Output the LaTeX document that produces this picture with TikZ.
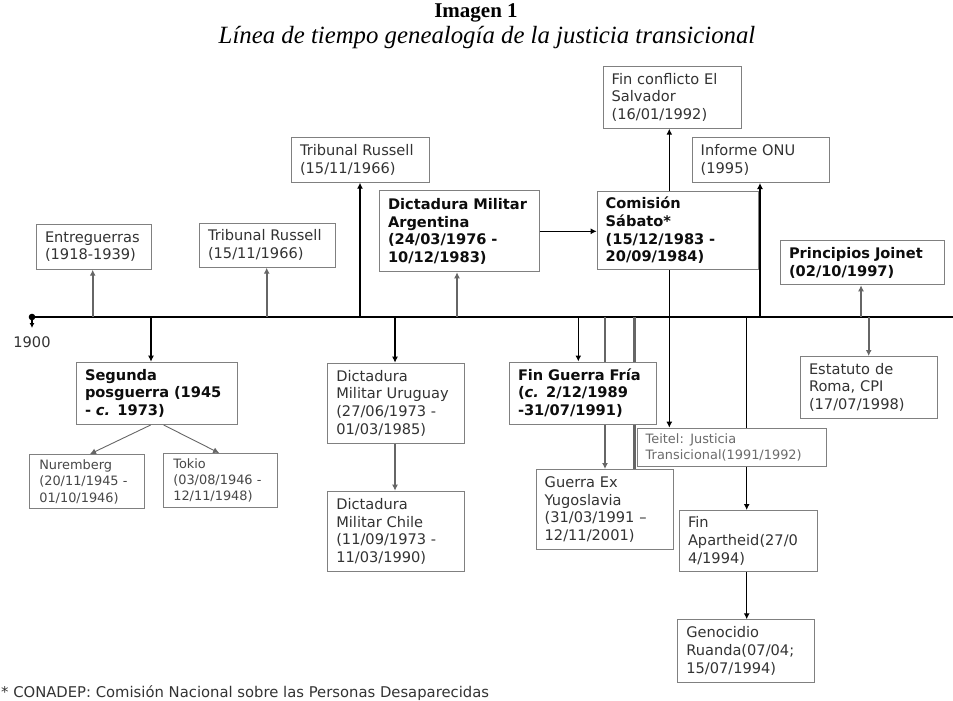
\documentclass[tikz,border=0pt]{standalone}
\usepackage{fontspec}
\setmainfont{DejaVu Sans}
\newfontfamily\titlefont{Liberation Serif}
\usetikzlibrary{arrows.meta}
\definecolor{boxline}{gray}{0.5}
\definecolor{txt}{gray}{0.2}
\definecolor{txtb}{gray}{0.05}
\definecolor{txts}{gray}{0.28}
\definecolor{txtl}{gray}{0.42}
\definecolor{gconn}{gray}{0.4}
\begin{document}
\begin{tikzpicture}[x=1pt,y=-1pt,
  box/.style={draw=boxline, line width=1pt, fill=white, anchor=north west,
    align=left, inner xsep=8.5pt, inner ysep=0pt,
    font=\fontsize{14.6}{17.6}\selectfont, text=txt},
  bbox/.style={box, font=\fontsize{14.6}{17.6}\selectfont\bfseries, text=txtb},
  sbox/.style={box, inner xsep=9.5pt, font=\fontsize{12.9}{16.4}\selectfont, text=txts},
  arr/.style={-{Latex[length=6pt,width=6pt]}},
  blk/.style={draw=black, line width=1.4pt},
  gry/.style={draw=gconn, line width=2.2pt},
  thin/.style={draw=gconn, line width=0.9pt}]
\useasboundingbox (0,0) rectangle (953,701);

% title
\node[font=\titlefont\bfseries\fontsize{21}{25}\selectfont] (tit) at (476,13) {Imagen 1};
\node[font=\titlefont\itshape\fontsize{24.8}{28}\selectfont] (sub) at (487,38) {Línea de tiempo genealogía de la justicia transicional};

% timeline
\coordinate (t0) at (32,317);
\coordinate (tE) at (953,317);
\draw[black, line width=2.2pt] (t0) -- (tE);
\fill[black] (t0) circle (3.3pt);
\coordinate (t0d) at (32,328);
\draw[black, line width=1.2pt, -{Latex[length=5pt,width=5pt]}] (t0) -- (t0d);
\node[font=\fontsize{14.6}{17.6}\selectfont, text=txt] (y1900) at (32,342) {1900};

% boxes above
\node[box, text width=98pt, minimum height=45pt] (entre) at (36,223.7) {Entreguerras\\(1918-1939)};
\node[box, text width=119.3pt, minimum height=44pt] (trib1) at (199,222.7) {Tribunal Russell\\(15/11/1966)};
\node[box, text width=120.7pt, minimum height=45pt] (trib2) at (291,136.7) {Tribunal Russell\\(15/11/1966)};
\node[bbox, text width=142.7pt, minimum height=81pt] (arg) at (379,190.3) {Dictadura Militar\\Argentina\\(24/03/1976 -\\10/12/1983)};
\node[bbox, text width=144.6pt, minimum height=78.6pt] (sab) at (596.7,190.7) {Comisión\\Sábato*\\(15/12/1983 -\\20/09/1984)};
\node[box, text width=121pt, minimum height=61.7pt] (fin) at (602.7,66) {Fin conflicto El\\Salvador\\(16/01/1992)};
\node[box, text width=120pt, minimum height=44.7pt] (onu) at (691.7,137.3) {Informe ONU\\(1995)};
\node[bbox, text width=147pt, minimum height=44.3pt] (joi) at (780,240) {Principios Joinet\\(02/10/1997)};

% boxes below
\node[bbox, text width=144.3pt, minimum height=62.3pt] (seg) at (76,361.7) {Segunda\\posguerra (1945\\- \textit{c.} 1973)};
\node[sbox, text width=95.4pt, minimum height=54.3pt] (nur) at (29.3,454) {Nuremberg\\(20/11/1945 -\\01/10/1946)};
\node[sbox, text width=94.7pt, minimum height=54pt] (tok) at (163.3,453) {Tokio\\(03/08/1946 -\\12/11/1948)};
\node[box, text width=119.7pt, minimum height=80pt] (uru) at (327.3,362.7) {Dictadura\\Militar Uruguay\\(27/06/1973 -\\01/03/1985)};
\node[box, text width=119.7pt, minimum height=80.3pt] (chi) at (327.3,490.7) {Dictadura\\Militar Chile\\(11/09/1973 -\\11/03/1990)};
\node[bbox, text width=129.7pt, minimum height=62pt] (fgf) at (509,361.5) {Fin Guerra Fría\\(\textit{c.} 2/12/1989\\-31/07/1991)};
\node[box, text width=120.6pt, minimum height=80pt] (yug) at (535.7,469) {Guerra Ex\\Yugoslavia\\(31/03/1991 –\\12/11/2001)};
\node[sbox, inner xsep=8.5pt, text=txtl, text width=172.3pt, minimum height=38pt] (tei) at (636.7,427.7) {Teitel: Justicia\\Transicional(1991/1992)};
\node[box, text width=119.7pt, minimum height=61.7pt] (est) at (800,356) {Estatuto de\\Roma, CPI\\(17/07/1998)};
\node[box, text width=120.7pt, minimum height=61pt] (apa) at (679,510) {Fin\\Apartheid(27/0\\4/1994)};
\node[box, text width=119.7pt, minimum height=62.4pt] (gen) at (677.3,619.3) {Genocidio\\Ruanda(07/04;\\15/07/1994)};

% timeline tick coordinates
\coordinate (tEntre) at (92.7,317);
\coordinate (tTrib1) at (266.7,317);
\coordinate (tSeg) at (151,317);
\coordinate (tTrib2) at (360,317);
\coordinate (tUru) at (395,317);
\coordinate (tArg) at (457,317);
\coordinate (tFgf) at (578.3,317);
\coordinate (tYug) at (605,317);
\coordinate (tYug2) at (634.3,317);
\coordinate (tTei) at (669.3,317);
\coordinate (tApa) at (746.7,317);
\coordinate (tOnu) at (760,317);
\coordinate (tJoi) at (861,317);
\coordinate (tEst) at (868.7,317);

% connectors above
\draw[gry, arr] (tEntre) -- (tEntre |- entre.south);
\draw[gry, arr] (tTrib1) -- (tTrib1 |- trib1.south);
\draw[blk, arr] (tTrib2) -- (tTrib2 |- trib2.south);
\draw[gry, arr] (tArg) -- (tArg |- arg.south);
\draw[blk, arr] (arg.east) -- (arg.east -| sab.west);
\draw[blk, arr] (tTei |- sab.north) -- (tTei |- fin.south);
\draw[blk, arr] (tOnu) -- (tOnu |- onu.south);
\draw[gry, arr] (tJoi) -- (tJoi |- joi.south);

% connectors below
\draw[blk, arr] (tSeg) -- (tSeg |- seg.north);
\draw[thin, arr] ([xshift=-6.5pt]seg.south) -- ([xshift=3pt]nur.north);
\draw[thin, arr] ([xshift=6.5pt]seg.south) -- ([xshift=-1.5pt]tok.north);
\draw[blk, arr] (tUru) -- (tUru |- uru.north);
\draw[gry, arr] (tUru |- uru.south) -- (tUru |- chi.north);
\draw[blk, arr] (tFgf) -- (tFgf |- fgf.north);
\draw[gry] (tYug) -- (tYug |- fgf.north);
\draw[gry, arr] (tYug |- fgf.south) -- (tYug |- yug.north);
\draw[draw=gconn, line width=2.8pt] (tYug2) -- (tYug2 |- fgf.north);
\draw[draw=gconn, line width=2.8pt] (tYug2 |- fgf.south) -- (tYug2 |- yug.north);
\draw[blk, arr] (tTei |- sab.south) -- (tTei |- tei.north);
\draw[blk] (tApa) -- (tApa |- tei.north);
\draw[blk, arr] (tApa |- tei.south) -- (tApa |- apa.north);
\draw[blk, arr] (tApa |- apa.south) -- (tApa |- gen.north);
\draw[gry, arr] (tEst) -- (tEst |- est.north);

% footnote
\node[anchor=west, font=\fontsize{14.8}{17.6}\selectfont, text=txt, inner sep=0pt] (foot) at (1,693) {* CONADEP: Comisión Nacional sobre las Personas Desaparecidas};
\end{tikzpicture}
\end{document}
